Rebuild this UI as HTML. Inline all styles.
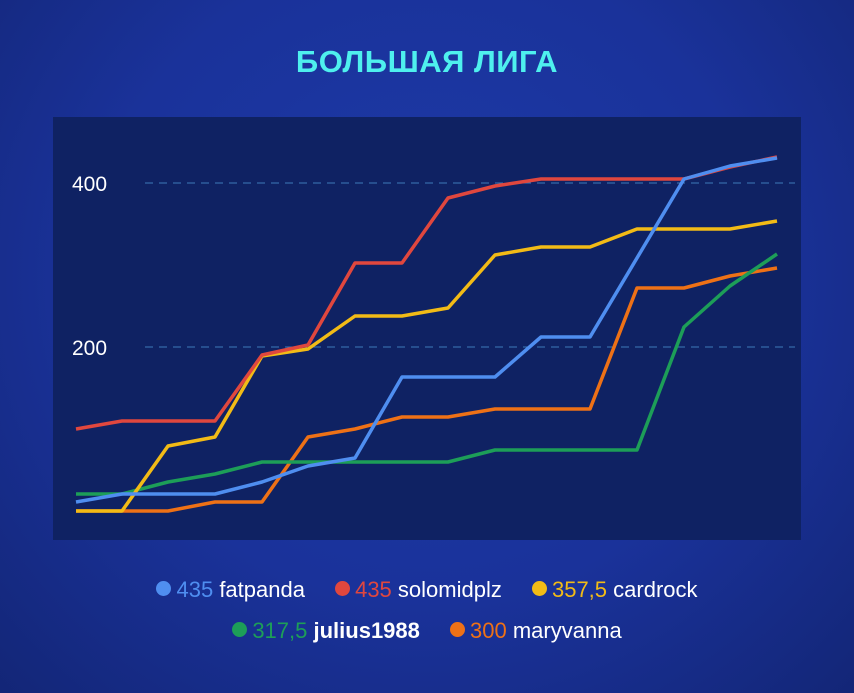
<!DOCTYPE html>
<html><head><meta charset="utf-8"><style>
html,body{margin:0;padding:0}
body{width:854px;height:693px;overflow:hidden;background:radial-gradient(ellipse at 50% 40%,#1d3aa8 0%,#1a329a 55%,#132677 100%);font-family:"Liberation Sans","DejaVu Sans",sans-serif;position:relative}
.t{position:absolute;left:0;width:854px;top:44px;text-align:center;color:#4ef0ee;font-weight:bold;font-size:31px;letter-spacing:0.5px}
.leg{position:absolute;left:0;width:854px;text-align:center;color:#fff;font-size:22px;white-space:nowrap}
.leg span.d{display:inline-block;width:15px;height:15px;border-radius:50%;margin-right:5px;vertical-align:1px}
.leg b{font-weight:normal}
.it{margin:0 12px}
</style></head><body>
<div class="t">БОЛЬШАЯ ЛИГА</div>
<svg width="854" height="693" style="position:absolute;left:0;top:0">
<rect x="53" y="117" width="748" height="423" fill="#0f2263"/>
<g stroke="#3d7ab8" stroke-width="1" stroke-dasharray="8,6"><line x1="145" y1="183" x2="795" y2="183"/><line x1="145" y1="347" x2="795" y2="347"/></g>
<g fill="#fff" font-size="21" font-family="Liberation Sans,sans-serif"><text x="72" y="191">400</text><text x="72" y="355">200</text></g>
<g fill="none" stroke-width="3.5" stroke-linejoin="round">
<polyline stroke="#ee7116" points="76,511 122,511 168,511 215,502 262,502 308,437 355,429 402,417 448,417 495,409 541,409 590,409 637,288 684,288 730,276 777,268"/>
<polyline stroke="#1d9e58" points="76,494 122,494 168,482 215,474 262,462 308,462 355,462 402,462 448,462 495,450 541,450 590,450 637,450 684,327 730,286 777,254"/>
<polyline stroke="#f2bb16" points="76,511 122,511 168,446 215,437 262,356 308,349 355,316 402,316 448,308 495,255 541,247 590,247 637,229 684,229 730,229 777,221"/>
<polyline stroke="#e0473e" points="76,429 122,421 168,421 215,421 262,355 308,345 355,263 402,263 448,198 495,186 541,179 590,179 637,179 684,179 730,167 777,157"/>
<polyline stroke="#4f8ef0" points="76,502 122,494 168,494 215,494 262,482 308,466 355,458 402,377 448,377 495,377 541,337 590,337 637,258 684,179 730,166 777,158"/>
</g>
</svg>
<div class="leg" style="top:577px">
<span class="it"><span class="d" style="background:#4f8ef0"></span><b style="color:#4f8ef0">435</b> fatpanda</span>
<span class="it"><span class="d" style="background:#e0473e"></span><b style="color:#e0473e">435</b> solomidplz</span>
<span class="it"><span class="d" style="background:#f2bb16"></span><b style="color:#f2bb16">357,5</b> cardrock</span>
</div>
<div class="leg" style="top:618px">
<span class="it"><span class="d" style="background:#1d9e58"></span><b style="color:#1d9e58">317,5</b> <span style="font-weight:bold">julius1988</span></span>
<span class="it"><span class="d" style="background:#ee7116"></span><b style="color:#ee7116">300</b> maryvanna</span>
</div>
</body></html>
